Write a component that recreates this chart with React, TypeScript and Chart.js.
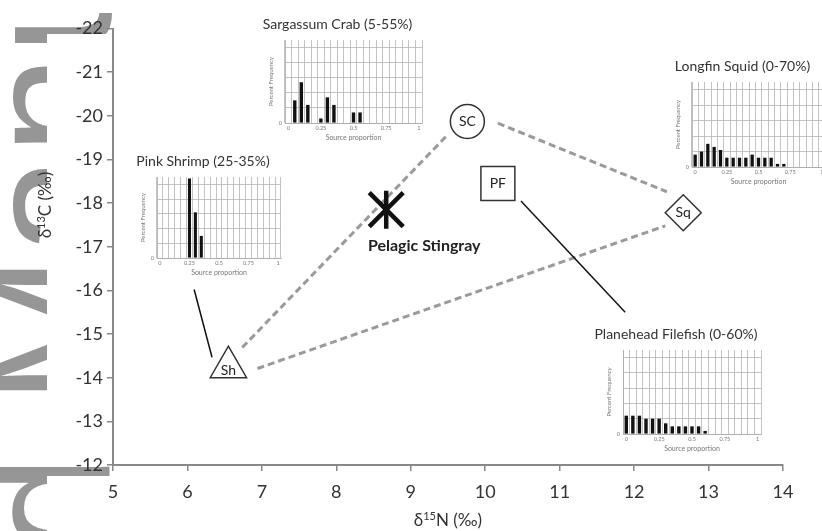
import React, { useEffect, useRef } from "react";
import { Chart, registerables } from "chart.js";

Chart.register(...registerables);

const FONT = "Lato, 'Liberation Sans', sans-serif";

// ---------------- main biplot (δ15N vs δ13C) ----------------
const nMin = 5;
const nMax = 14;
const cMin = -22;
const cMax = -12;

const sourceCodes = ["SC", "Sq", "PF", "Sh"];
const sourceN = [9.76, 12.66, 10.17, 6.55];
const sourceC = [-19.87, -17.78, -18.45, -14.24];

const consumerName = "Pelagic Stingray";
const consumerN = [8.67];
const consumerC = [-17.85];

// mixing-polygon edges (start / end, stopping short of the symbols)
const edgeScShN = [9.47, 6.73];
const edgeScShC = [-19.52, -14.68];
const edgeShSqN = [6.94, 12.42];
const edgeShSqC = [-14.21, -17.48];
const edgeScSqN = [10.17, 12.44];
const edgeScSqC = [-19.83, -18.26];

// leader lines to the inset histograms
const leaderShN = [6.33, 6.09];
const leaderShC = [-14.47, -16.02];
const leaderPfN = [10.48, 11.88];
const leaderPfC = [-18.05, -15.5];

// ---------------- inset histograms ----------------
const proportionBins = [
  "0", "0.05", "0.1", "0.15", "0.2", "0.25", "0.3", "0.35", "0.4", "0.45", "0.5",
  "0.55", "0.6", "0.65", "0.7", "0.75", "0.8", "0.85", "0.9", "0.95", "1",
];
const proportionTickLabels = ["0", "0.25", "0.5", "0.75", "1"];
const frequencyTickLabels = [0, 25, 55];

const crabTitle = "Sargassum Crab (5-55%)";
const crabFreq = [0, 15, 27, 12, 0, 3, 17, 12, 0, 0, 7, 7, 0, 0, 0, 0, 0, 0, 0, 0, 0];

const squidTitle = "Longfin Squid (0-70%)";
const squidFreq = [8, 10, 15, 13, 11, 6, 6, 6, 6, 8, 6, 6, 6, 2, 2, 0, 0, 0, 0, 0, 0];

const shrimpTitle = "Pink Shrimp (25-35%)";
const shrimpFreq = [0, 0, 0, 0, 0, 54, 31, 15, 0, 0, 0, 0, 0, 0, 0, 0, 0, 0, 0, 0, 0];

const filefishTitle = "Planehead Filefish (0-60%)";
const filefishFreq = [12, 12, 12, 10, 10, 10, 7, 5, 5, 5, 5, 5, 2, 0, 0, 0, 0, 0, 0, 0, 0];

const watermarkText = "Accepted Manuscript";

type Area = { l: number; t: number; r: number; b: number };

const Y_W = 32;
const T_H = 26;
const X_H = 22;

function Inset({ title, freq, area }: { title: string; freq: number[]; area: Area }) {
  const ref = useRef<HTMLCanvasElement>(null);
  const w = Math.round(area.r - area.l + Y_W + 1);
  const h = Math.round(area.b - area.t + T_H + X_H);
  useEffect(() => {
    const titleSize = 14;
    const chart = new Chart(ref.current!, {
      type: "bar",
      data: {
        labels: proportionBins,
        datasets: [
          {
            data: freq,
            backgroundColor: "#111",
            barPercentage: 0.52,
            categoryPercentage: 1,
          },
        ],
      },
      options: {
        responsive: false,
        animation: false,
        events: [],
        layout: { padding: { left: 0, right: 1, top: 0, bottom: 0 } },
        plugins: {
          legend: { display: false },
          tooltip: { enabled: false },
          title: {
            display: true,
            text: title,
            color: "#333",
            font: { family: FONT, size: titleSize, weight: "normal", lineHeight: 1.2 },
            padding: { top: 2, bottom: T_H - 2 - titleSize * 1.2 },
          },
        },
        scales: {
          x: {
            type: "category",
            offset: true,
            grid: { offset: true, color: "#b4b4b4", lineWidth: 0.8, drawTicks: false },
            border: { color: "#aaa", width: 0.8 },
            ticks: {
              autoSkip: false,
              maxRotation: 0,
              padding: 2,
              color: "#777",
              font: { family: FONT, size: 5.5 },
              callback: (_v: any, i: number) =>
                proportionTickLabels.includes(proportionBins[i]) ? proportionBins[i] : "",
            },
            title: {
              display: true,
              text: "Source proportion",
              color: "#777",
              font: { family: FONT, size: 7 },
              padding: { top: 0, bottom: 2.8 },
            },
            afterFit: (s: any) => {
              s.height = X_H;
            },
          },
          y: {
            min: 0,
            max: 55,
            grid: { color: "#b4b4b4", lineWidth: 0.8, drawTicks: false },
            border: { color: "#aaa", width: 0.8 },
            ticks: {
              stepSize: 5,
              padding: 3,
              color: "#777",
              font: { family: FONT, size: 5.5 },
              callback: (v: any) => (frequencyTickLabels.includes(Number(v)) ? String(v) : ""),
            },
            title: {
              display: true,
              text: "Percent Frequency",
              color: "#777",
              font: { family: FONT, size: 6 },
              padding: { top: 14, bottom: 0 },
            },
            afterFit: (s: any) => {
              s.width = Y_W;
            },
          },
        },
      } as any,
    });
    return () => chart.destroy();
  }, []);
  return (
    <canvas
      ref={ref}
      width={w}
      height={h}
      style={{ position: "absolute", left: Math.round(area.l - Y_W), top: Math.round(area.t - T_H), width: w, height: h }}
    />
  );
}

function pts(n: number[], c: number[]) {
  return n.map((x, i) => ({ x, y: c[i] }));
}

type Seg = { t: string; size: number; rise?: number };

function drawRich(ctx: CanvasRenderingContext2D, segs: Seg[], cx: number, cy: number, rot: number) {
  ctx.save();
  ctx.translate(cx, cy);
  ctx.rotate(rot);
  ctx.fillStyle = "#333";
  ctx.textBaseline = "alphabetic";
  ctx.textAlign = "left";
  let total = 0;
  const widths = segs.map((s) => {
    ctx.font = `${s.size}px ${FONT}`;
    const wd = ctx.measureText(s.t).width;
    total += wd;
    return wd;
  });
  let x = -total / 2;
  segs.forEach((s, i) => {
    ctx.font = `${s.size}px ${FONT}`;
    ctx.fillText(s.t, x, 6 + (s.rise || 0));
    x += widths[i];
  });
  ctx.restore();
}

const watermarkPlugin = {
  id: "watermark",
  beforeDraw(chart: any) {
    const ctx: CanvasRenderingContext2D = chart.ctx;
    ctx.save();
    ctx.beginPath();
    ctx.rect(0, 0, 47, 531);
    ctx.rect(0, 13, 112, 21);
    ctx.rect(0, 455, 112, 21);
    ctx.clip();
    ctx.fillStyle = "rgb(150,150,150)";
    ctx.font = "180px 'Liberation Sans'";
    const pre = "Accepted ";
    const wPre = ctx.measureText(pre).width;
    ctx.translate(110, 405 + wPre);
    ctx.rotate(-Math.PI / 2);
    ctx.textBaseline = "alphabetic";
    ctx.fillText(watermarkText, 0, 0);
    ctx.restore();
  },
};

const labelsPlugin = {
  id: "labels",
  afterDatasetsDraw(chart: any) {
    const ctx: CanvasRenderingContext2D = chart.ctx;
    const xs = chart.scales.x;
    const ys = chart.scales.y;
    ctx.save();
    ctx.fillStyle = "#222";
    ctx.textAlign = "center";
    ctx.textBaseline = "middle";
    ctx.font = `14px ${FONT}`;
    sourceCodes.forEach((code, i) => {
      const px = xs.getPixelForValue(sourceN[i]);
      const py = ys.getPixelForValue(sourceC[i]);
      ctx.fillText(code, px, py + (code === "Sh" ? 3 : 0));
    });
    ctx.font = `bold 16px ${FONT}`;
    const cx = xs.getPixelForValue(consumerN[0]);
    const cy = ys.getPixelForValue(consumerC[0]);
    ctx.fillText(consumerName, cx + 38, cy + 36);
    ctx.restore();
  },
  afterDraw(chart: any) {
    const ctx: CanvasRenderingContext2D = chart.ctx;
    const area = chart.chartArea;
    drawRich(
      ctx,
      [
        { t: "δ", size: 17 },
        { t: "15", size: 11, rise: -6 },
        { t: "N (‰)", size: 17 },
      ],
      (area.left + area.right) / 2,
      520,
      0
    );
    drawRich(
      ctx,
      [
        { t: "δ", size: 17 },
        { t: "13", size: 11, rise: -6 },
        { t: "C (‰)", size: 17 },
      ],
      45,
      205,
      -Math.PI / 2
    );
  },
};

function MainChart() {
  const ref = useRef<HTMLCanvasElement>(null);
  useEffect(() => {
    const marker = {
      pointBackgroundColor: "#fff",
      pointBorderColor: "#333",
      pointBorderWidth: 1.5,
      showLine: false,
    };
    const edge = {
      showLine: true,
      pointRadius: 0,
      borderColor: "#9a9a9a",
      borderWidth: 3,
      borderDash: [7, 4],
    };
    const leader = { showLine: true, pointRadius: 0, borderColor: "#111", borderWidth: 1.5 };
    const chart = new Chart(ref.current!, {
      type: "scatter",
      data: {
        datasets: [
          {
            data: pts(consumerN, consumerC),
            pointStyle: "line",
            pointRotation: 90,
            pointRadius: 19,
            pointBorderColor: "#111",
            pointBorderWidth: 4.5,
          },
          {
            data: pts(consumerN, consumerC),
            pointStyle: "crossRot",
            pointRadius: 24,
            pointBorderColor: "#111",
            pointBorderWidth: 4.5,
          },
          { ...marker, data: pts([sourceN[0]], [sourceC[0]]), pointStyle: "circle", pointRadius: 17 },
          { ...marker, data: pts([sourceN[1]], [sourceC[1]]), pointStyle: "rectRot", pointRadius: 18 },
          { ...marker, data: pts([sourceN[2]], [sourceC[2]]), pointStyle: "rect", pointRadius: 24 },
          { ...marker, data: pts([sourceN[3]], [sourceC[3]]), pointStyle: "triangle", pointRadius: 21 },
          { ...leader, data: pts(leaderShN, leaderShC) },
          { ...leader, data: pts(leaderPfN, leaderPfC) },
          { ...edge, data: pts(edgeScShN, edgeScShC) },
          { ...edge, data: pts(edgeShSqN, edgeShSqC) },
          { ...edge, data: pts(edgeScSqN, edgeScSqC) },
        ],
      },
      options: {
        responsive: false,
        animation: false,
        events: [],
        layout: { padding: { left: 0, right: 39, top: 21, bottom: 0 } },
        plugins: { legend: { display: false }, tooltip: { enabled: false } },
        scales: {
          x: {
            type: "linear",
            min: nMin,
            max: nMax,
            ticks: { stepSize: 1, padding: 10, color: "#333", font: { family: FONT, size: 18 } },
            grid: { drawOnChartArea: false, drawTicks: true, tickLength: 6, color: "#888", lineWidth: 1.5 },
            border: { color: "#888", width: 2 },
            afterFit: (s: any) => {
              s.height = 66;
            },
          },
          y: {
            type: "linear",
            min: cMin,
            max: cMax,
            reverse: true,
            ticks: { stepSize: 1, padding: 4, color: "#333", font: { family: FONT, size: 18 } },
            grid: { drawOnChartArea: false, drawTicks: true, tickLength: 6, color: "#888", lineWidth: 1.5 },
            border: { color: "#888", width: 2 },
            afterFit: (s: any) => {
              s.width = 113;
            },
          },
        },
      } as any,
      plugins: [watermarkPlugin, labelsPlugin],
    });
    return () => chart.destroy();
  }, []);
  return <canvas ref={ref} width={822} height={531} style={{ position: "absolute", left: 0, top: 0 }} />;
}

export default function App() {
  return (
    <div
      style={{
        position: "fixed",
        left: 0,
        top: 0,
        width: 822,
        height: 531,
        overflow: "hidden",
        background: "#fff",
      }}
    >
      <MainChart />
      <Inset title={crabTitle} freq={crabFreq} area={{ l: 285, t: 40, r: 422, b: 123 }} />
      <Inset title={squidTitle} freq={squidFreq} area={{ l: 692, t: 82, r: 825, b: 167 }} />
      <Inset title={shrimpTitle} freq={shrimpFreq} area={{ l: 157, t: 177, r: 281, b: 258 }} />
      <Inset title={filefishTitle} freq={filefishFreq} area={{ l: 623, t: 350, r: 761, b: 434 }} />
    </div>
  );
}
